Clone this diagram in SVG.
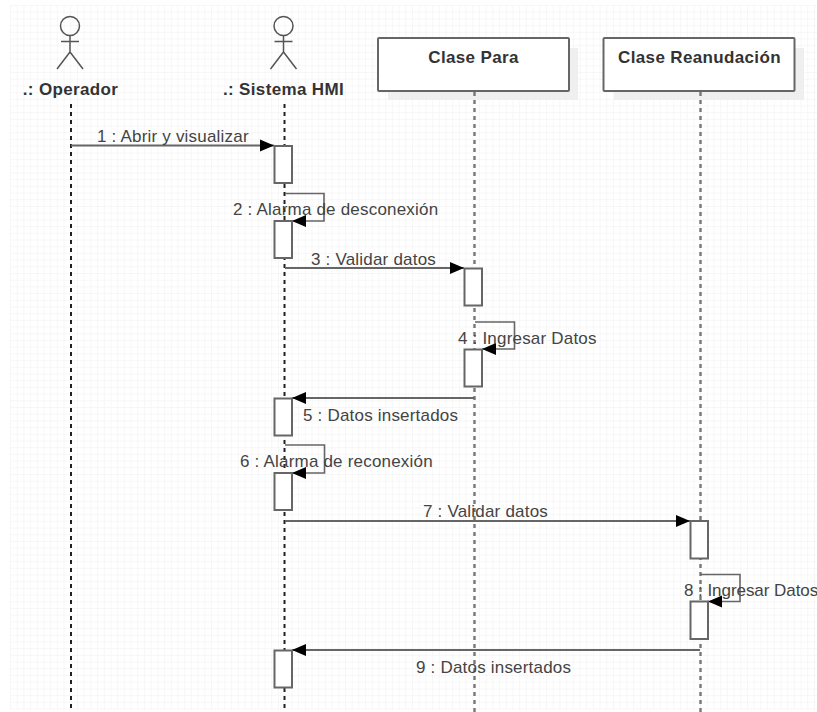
<svg xmlns="http://www.w3.org/2000/svg" width="817" height="712" viewBox="0 0 817 712">
<style>
.g{stroke:#f0f0f0;stroke-width:1;fill:none}
.life{stroke:#222;stroke-width:2;stroke-dasharray:4 4;fill:none}
.life2{stroke:#777;stroke-width:2.4;stroke-dasharray:4 4;fill:none}
.msg{stroke:#666;stroke-width:2.2;fill:none}
.self{stroke:#666;stroke-width:1.6;fill:none}
.act{fill:#fff;stroke:#666;stroke-width:2}
.box{fill:#fff;stroke:#666;stroke-width:2}
.sh{fill:#efefef}
.ac{stroke:#555;stroke-width:1.5;fill:none}
text{font-family:"Liberation Sans",Arial,sans-serif}
.t{font-size:17px;letter-spacing:.2px;fill:#444}
.fit{letter-spacing:-.05px}
.h{font-size:17px;letter-spacing:.35px;font-weight:bold;fill:#333;text-anchor:middle}
.ar{fill:#000}
</style>
<defs>
<pattern id="grid" x="10" y="5" width="6.7" height="6.7" patternUnits="userSpaceOnUse"><path class="g" d="M6.7 0H0V6.7"/></pattern>
</defs>
<rect width="817" height="712" fill="#fff"/>
<rect id="background-grid" x="10" y="5" width="807" height="705" fill="url(#grid)"/>
<g id="node-operador">
<circle class="ac" cx="70" cy="26" r="9.5"/>
<path class="ac" d="M70 35.500V52M61 41.500H79M70 52L57 69M70 52L83 69"/>
<text class="h" x="70.500" y="95">.: Operador</text>
</g>
<g id="node-sistema">
<circle class="ac" cx="283.500" cy="26" r="9.500"/>
<path class="ac" d="M283.500 35.500V52M274.500 41.500H292.500M283.500 52L270.500 69M283.500 52L296.500 69"/>
<text class="h" x="283.500" y="95">.: Sistema HMI</text>
</g>
<g id="node-clase-para">
<rect class="sh" x="388" y="48" width="190" height="52"/>
<rect class="box" x="378" y="38" width="191" height="53" rx="1"/>
<text class="h" x="473.500" y="62.500">Clase Para</text>
</g>
<g id="node-clase-reanudacion">
<rect class="sh" x="614" y="48" width="190" height="52"/>
<rect class="box" x="603.500" y="38" width="191" height="53" rx="1"/>
<text class="h" x="699.500" y="62.500">Clase Reanudación</text>
</g>
<g id="connectors">
<path class="life" d="M71 104V712"/>
<path class="life" d="M284.500 104V712"/>
<path class="life2" d="M474.500 92V712"/>
<path class="life2" d="M700.500 92V712"/>
<path class="msg" d="M71 145.500H274"/>
<path class="ar" d="M274 145.500L260 139.500V151.500Z"/>
<path class="self" d="M285 193.500H324V221H292"/>
<path class="ar" d="M292 221L306 215V227Z"/>
<path class="msg" d="M285 268H464"/>
<path class="ar" d="M464 268L450 262V274Z"/>
<path class="self" d="M475 322H514.500V349H482"/>
<path class="ar" d="M482 349L496 343V355Z"/>
<path class="msg" d="M474 398H292"/>
<path class="ar" d="M292 398L306 392V404Z"/>
<path class="self" d="M285 445H324.500V473H292"/>
<path class="ar" d="M292 473L306 467V479Z"/>
<path class="msg" d="M285 521H690"/>
<path class="ar" d="M690 521L676 515V527Z"/>
<path class="self" d="M700 574.500H740V601.500H708"/>
<path class="ar" d="M708 601.500L722 595.500V607.500Z"/>
<path class="msg" d="M700 650H292"/>
<path class="ar" d="M292 650L306 644V656Z"/>
</g>
<g id="activations">
<rect class="act" x="274.500" y="146" width="17.500" height="37"/>
<rect class="act" x="274.500" y="221" width="17.500" height="37"/>
<rect class="act" x="464.500" y="268.500" width="17.500" height="37"/>
<rect class="act" x="274.500" y="398.500" width="17.500" height="37"/>
<rect class="act" x="464.500" y="349.500" width="17.500" height="37"/>
<rect class="act" x="274.500" y="473" width="17.500" height="37"/>
<rect class="act" x="690.500" y="521" width="17.500" height="37.500"/>
<rect class="act" x="690.500" y="601.500" width="17.500" height="37.500"/>
<rect class="act" x="274.500" y="650.500" width="17.500" height="37"/>
</g>
<g id="labels">
<text class="t" x="97" y="142">1 : Abrir y visualizar</text>
<text class="t" x="233" y="215">2 : Alarma de desconexión</text>
<text class="t" x="311" y="265">3 : Validar datos</text>
<text class="t" x="458" y="344">4 : Ingresar Datos</text>
<text class="t" x="303" y="421">5 : Datos insertados</text>
<text class="t" x="240" y="467">6 : Alarma de reconexión</text>
<text class="t" x="423" y="517">7 : Validar datos</text>
<text class="t fit" x="684" y="596">8 : Ingresar Datos</text>
<text class="t" x="416" y="673">9 : Datos insertados</text>
</g>
</svg>
